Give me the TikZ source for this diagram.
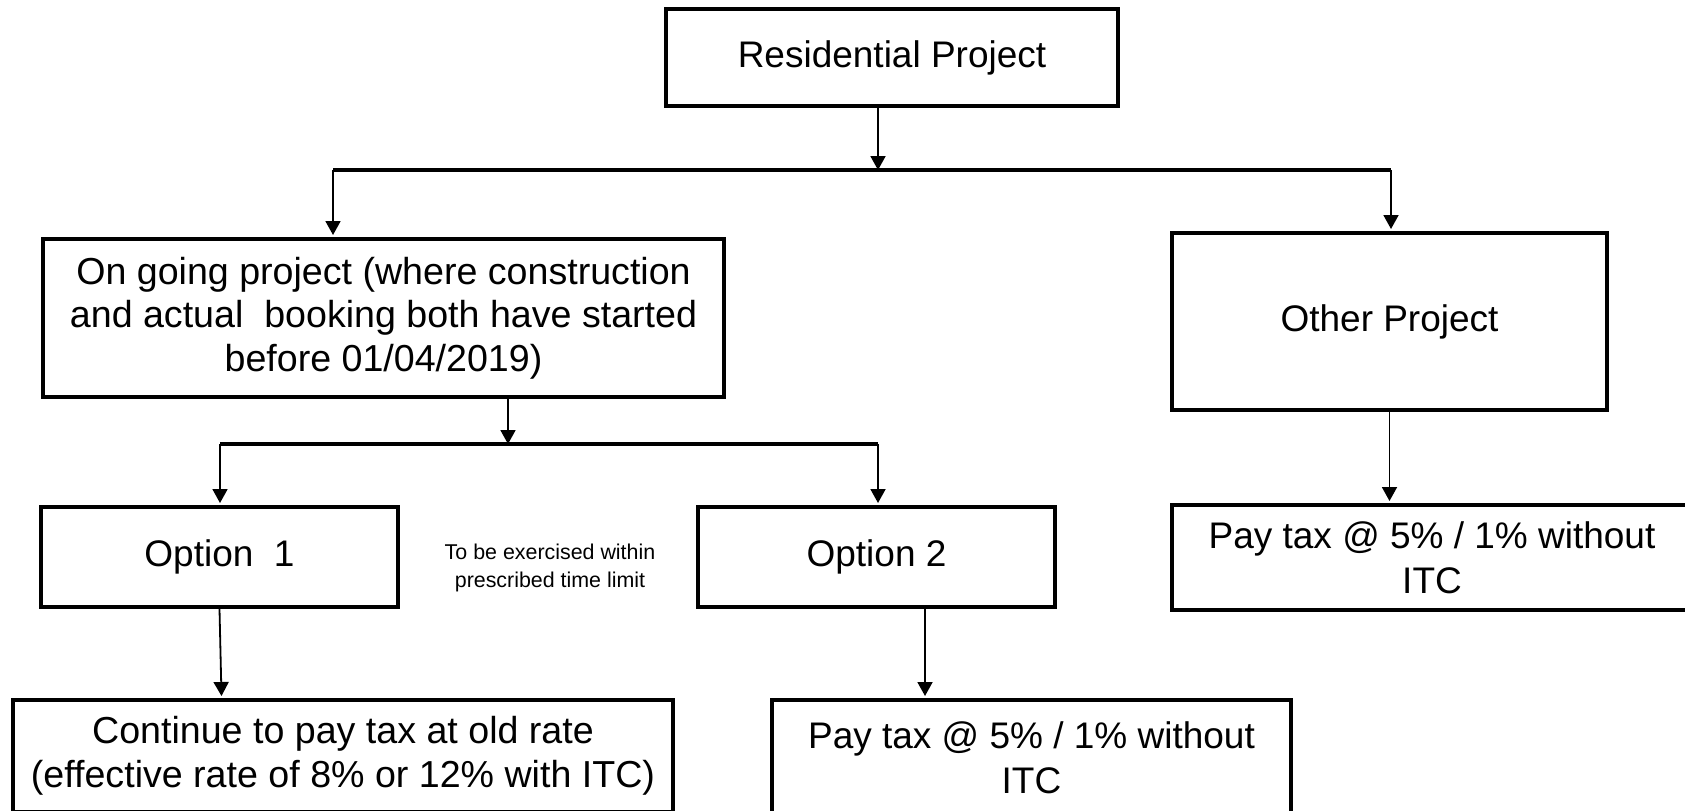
\documentclass[tikz,border=0pt]{standalone}
\usepackage{fontspec}
\setmainfont{Liberation Sans}
\usetikzlibrary{arrows.meta, positioning, calc}
\tikzset{
    box/.style={draw, line width=2pt, align=center, inner sep=0pt, font=\fontsize{18.5}{22.5}\selectfont},
    bigbox/.style={box, font=\fontsize{18.8}{21.8}\selectfont},
    link/.style={-{Triangle[length=7pt, width=7.5pt]}, line width=0.9pt},
    bar/.style={line width=1.6pt},
    note/.style={align=center, font=\fontsize{10.7}{14}\selectfont}
}

\begin{document}
\begin{tikzpicture}[x=0.5pt, y=-0.5pt]
    \useasboundingbox (0,0) rectangle (1685,810);
    \clip (0,0) rectangle (1685,810);
    % Boxes
    \node[box, minimum width=226pt, minimum height=48.5pt] (res) at (892,57.5) {Residential Project};
    \node[bigbox, minimum width=340.5pt, minimum height=79pt] (ongo) at (383.5,318)
        {On going project (where construction\\and actual~ booking both have started\\before 01/04/2019)};
    \node[box, minimum width=217.5pt, minimum height=88.5pt] (other) at (1389.5,321.5) {Other Project};
    \node[box, minimum width=178.5pt, minimum height=50pt] (opt1) at (219.5,557) {Option~ 1};
    \node[box, minimum width=178.5pt, minimum height=50pt] (opt2) at (876.5,557) {Option 2};
    \node[note] (limit) at (550,568) {To be exercised within\\prescribed time limit};
    \node[box, minimum width=260pt, minimum height=52.5pt] (pay1) at (1432,557.5) {Pay tax @ 5\% / 1\% without\\ITC};
    \node[bigbox, minimum width=330pt, minimum height=56pt] (cont) at (343,756)
        {Continue to pay tax at old rate\\(effective rate of 8\% or 12\% with ITC)};
    \node[box, minimum width=259.5pt, minimum height=58pt] (pay2) at (1031.5,758) {Pay tax @ 5\% / 1\% without\\ITC};
    % Junctions
    \coordinate (j1) at (878,170);
    \coordinate (b1l) at (333,170);
    \coordinate (b1r) at (1391,170);
    \coordinate (j2) at (508,444);
    \coordinate (b2l) at (220,444);
    \coordinate (b2r) at (878,444);
    \coordinate (a2) at (925,0);
    % Connectors
    \draw[link] (res.south -| j1) -- (j1);
    \draw[bar] (b1l) -- (b1r);
    \draw[link] (b1l) -- ([yshift=1pt]b1l |- ongo.north);
    \draw[link] (b1r) -- ([yshift=1pt]b1r |- other.north);
    \draw[link] (ongo.south -| j2) -- (j2);
    \draw[bar] (b2l) -- (b2r);
    \draw[link] (b2l) -- ([yshift=1pt]b2l |- opt1.north);
    \draw[link] (b2r) -- ([yshift=1pt]b2r |- opt2.north);
    \draw[link] (opt1.south) -- ([xshift=1pt, yshift=1pt]opt1.south |- cont.north);
    \draw[link] (opt2.south -| a2) -- ([yshift=1pt]a2 |- pay2.north);
    \draw[link] (other.south) -- ([yshift=1pt]other.south |- pay1.north);
\end{tikzpicture}
\end{document}
